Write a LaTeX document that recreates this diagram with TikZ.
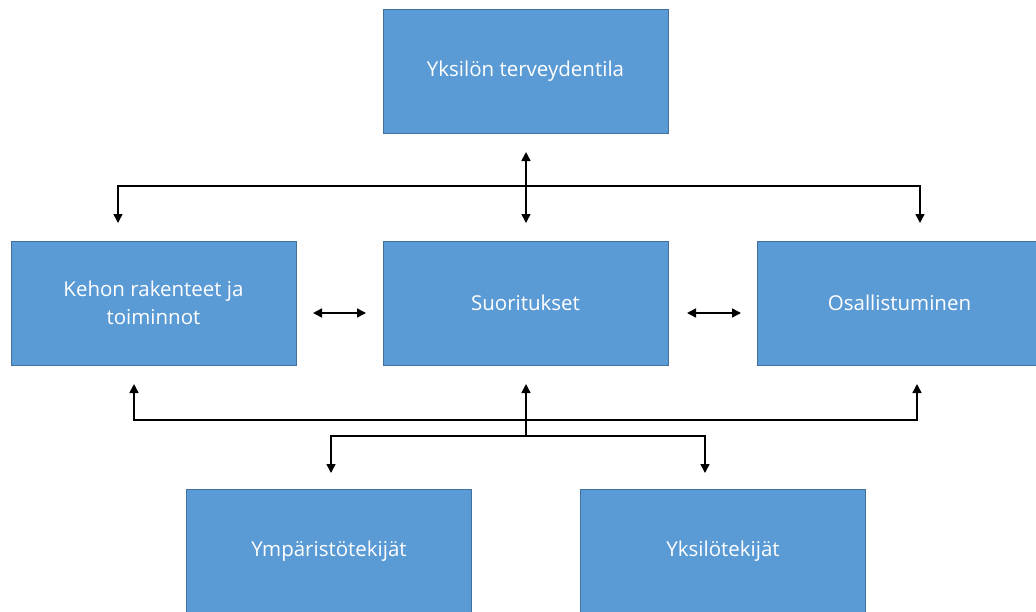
\documentclass[tikz,border=0pt]{standalone}
\usepackage{fontspec}
\setmainfont{Open Sans}
\usetikzlibrary{arrows.meta}
\definecolor{boxfill}{HTML}{5B9BD5}
\definecolor{boxline}{HTML}{41719C}
\begin{document}
\begin{tikzpicture}[x=1pt,y=-1pt,
  box/.style={draw=boxline,line width=0.8pt,fill=boxfill,minimum width=285pt,minimum height=124pt,
    text=white,font=\fontsize{20.5}{28}\selectfont,align=center,inner sep=0pt},
  conn/.style={line width=1.5pt,black},
  tip/.style={-{Triangle[length=9pt,width=9pt]}},
  tips/.style={{Triangle[length=9pt,width=9pt]}-{Triangle[length=9pt,width=9pt]}}]
\clip (0,0) rectangle (1036,611);
\fill[white] (0,0) rectangle (1036,611);
\node[box] (top) at (525.5,71) {Yksilön terveydentila};
\node[box] (kehon) at (153.5,303) {Kehon rakenteet ja\\toiminnot};
\node[box] (suor) at (525.5,303) {Suoritukset};
\node[box] (osal) at (899.5,303) {Osallistuminen};
\node[box] (ymp) at (329,551) {Ympäristötekijät};
\node[box] (yks) at (723,551) {Yksilötekijät};
% upper connectors
\coordinate (hubU) at (526,186);
\coordinate (uL) at (118,186);
\coordinate (uR) at (920,186);
\coordinate (tA) at (526,152);
\coordinate (tB) at (526,223);
\draw[conn,tips] (tA) -- (tB);
\draw[conn,tip] (hubU) -- (uL) -- (118,223);
\draw[conn,tip] (hubU) -- (uR) -- (920,223);
% horizontal double arrows
\coordinate (h1a) at (313,313);
\coordinate (h1b) at (366,313);
\coordinate (h2a) at (687,313);
\coordinate (h2b) at (741,313);
\draw[conn,tips] (h1a) -- (h1b);
\draw[conn,tips] (h2a) -- (h2b);
% lower connectors
\coordinate (hubL) at (526,420);
\coordinate (hubL2) at (526,436);
\coordinate (lL) at (134,420);
\coordinate (lR) at (917,420);
\draw[conn,tip] (hubL2) -- (526,384);
\draw[conn,tip] (hubL) -- (lL) -- (134,384);
\draw[conn,tip] (hubL) -- (lR) -- (917,384);
\draw[conn,tip] (hubL2) -- (331,436) -- (331,473);
\draw[conn,tip] (hubL2) -- (705,436) -- (705,473);
\end{tikzpicture}
\end{document}
